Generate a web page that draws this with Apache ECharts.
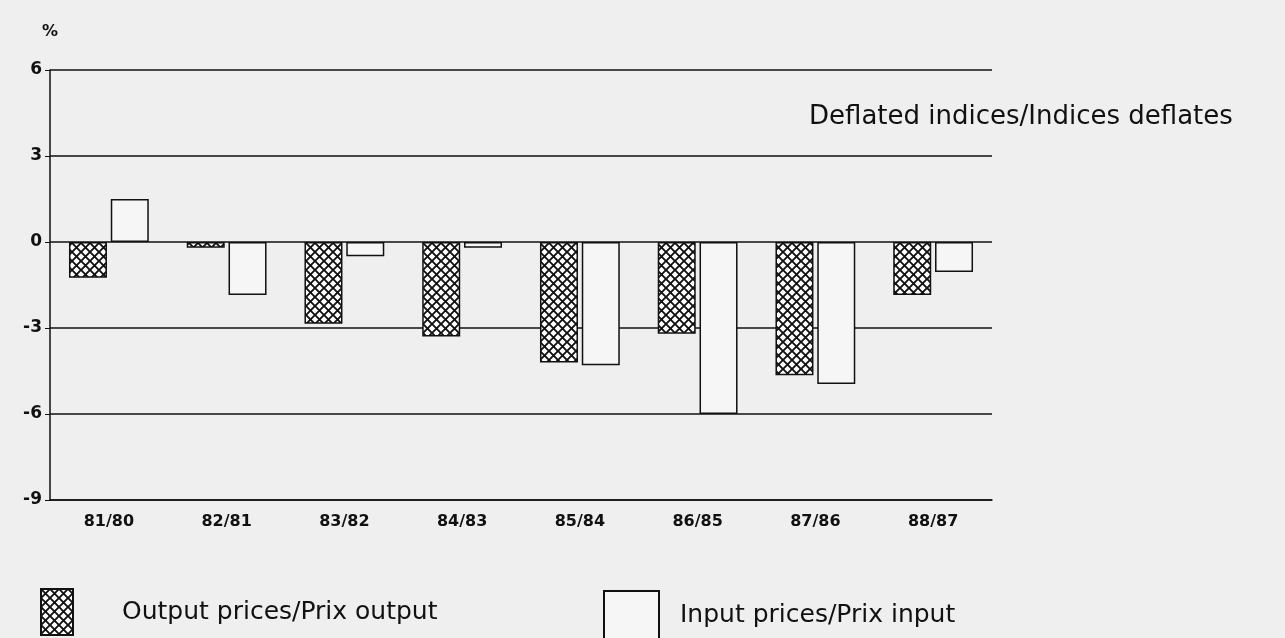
<!DOCTYPE html>
<html><head><meta charset="utf-8">
<script src="https://cdn.jsdelivr.net/npm/echarts@6/dist/echarts.min.js"></script>
<style>html,body{margin:0;padding:0;background:#efefef}#c{width:1285px;height:638px}</style>
</head><body><div id="c"></div>
<script>
const categories = ['81/80','82/81','83/82','84/83','85/84','86/85','87/86','88/87'];
const outputPrices = [-1.25, -0.2, -2.85, -3.3, -4.2, -3.2, -4.65, -1.85];
const inputPrices = [1.5, -1.85, -0.5, -0.2, -4.3, -6.0, -4.95, -1.05];
const yTicks = [6, 3, 0, -3, -6, -9];

function hatch() {
  const c = document.createElement('canvas');
  c.width = 9; c.height = 9;
  const g = c.getContext('2d');
  g.fillStyle = '#ffffff'; g.fillRect(0,0,9,9);
  g.strokeStyle = '#111'; g.lineWidth = 1.9;
  g.beginPath();
  g.moveTo(-1,-1); g.lineTo(10,10);
  g.moveTo(-1,10); g.lineTo(10,-1);
  g.stroke();
  return c;
}
const pat = {image: hatch(), repeat: 'repeat'};
const font = 'DejaVu Sans';
const chart = echarts.init(document.getElementById('c'));
chart.setOption({
  backgroundColor: '#efefef',
  animation: false,
  title: {text: 'Deflated indices/Indices deflates', left: 804, top: 99,
    textStyle: {fontFamily: font, fontSize: 26, fontWeight: 'normal', color: '#111'}},
  legend: [
    {data: ['Output prices/Prix output'], icon: 'rect', left: 40, top: 588, padding: 0, itemWidth: 32, itemHeight: 46,
     textStyle: {fontFamily: font, fontSize: 25, color: '#111', padding: [0,0,0,44]}},
    {data: ['Input prices/Prix input'], icon: 'rect', left: 603, top: 590, padding: 0, itemWidth: 55, itemHeight: 48,
     textStyle: {fontFamily: font, fontSize: 25, color: '#111', padding: [0,0,0,16]}}
  ],
  grid: {left: 50, right: 293, top: 70, bottom: 138},
  xAxis: {type: 'category', data: categories,
    axisLine: {onZero: false, lineStyle: {color: '#111', width: 1.5}},
    axisTick: {show: false},
    axisLabel: {fontFamily: font, fontSize: 16, fontWeight: 'bold', color: '#111', margin: 14}},
  yAxis: {type: 'value', min: -9, max: 6, interval: 3,
    name: '%', nameLocation: 'end', nameGap: 30,
    nameTextStyle: {fontFamily: font, fontSize: 16, fontWeight: 'bold', color: '#111', align: 'center'},
    axisLine: {show: true, lineStyle: {color: '#111', width: 1.5}},
    axisTick: {show: true, length: 5, lineStyle: {color: '#111'}},
    splitLine: {lineStyle: {color: '#111', width: 1.5}},
    axisLabel: {fontFamily: font, fontSize: 17, fontWeight: 'bold', color: '#111', margin: 8,
      formatter: v => yTicks.indexOf(v) >= 0 ? String(v) : ''}},
  series: [
    {name: 'Output prices/Prix output', type: 'bar', data: outputPrices, barWidth: 38, barGap: '10%',
     itemStyle: {color: pat, borderColor: '#111', borderWidth: 1.5}},
    {name: 'Input prices/Prix input', type: 'bar', data: inputPrices, barWidth: 38,
     itemStyle: {color: '#f6f6f6', borderColor: '#111', borderWidth: 1.5}}
  ]
});
</script></body></html>
